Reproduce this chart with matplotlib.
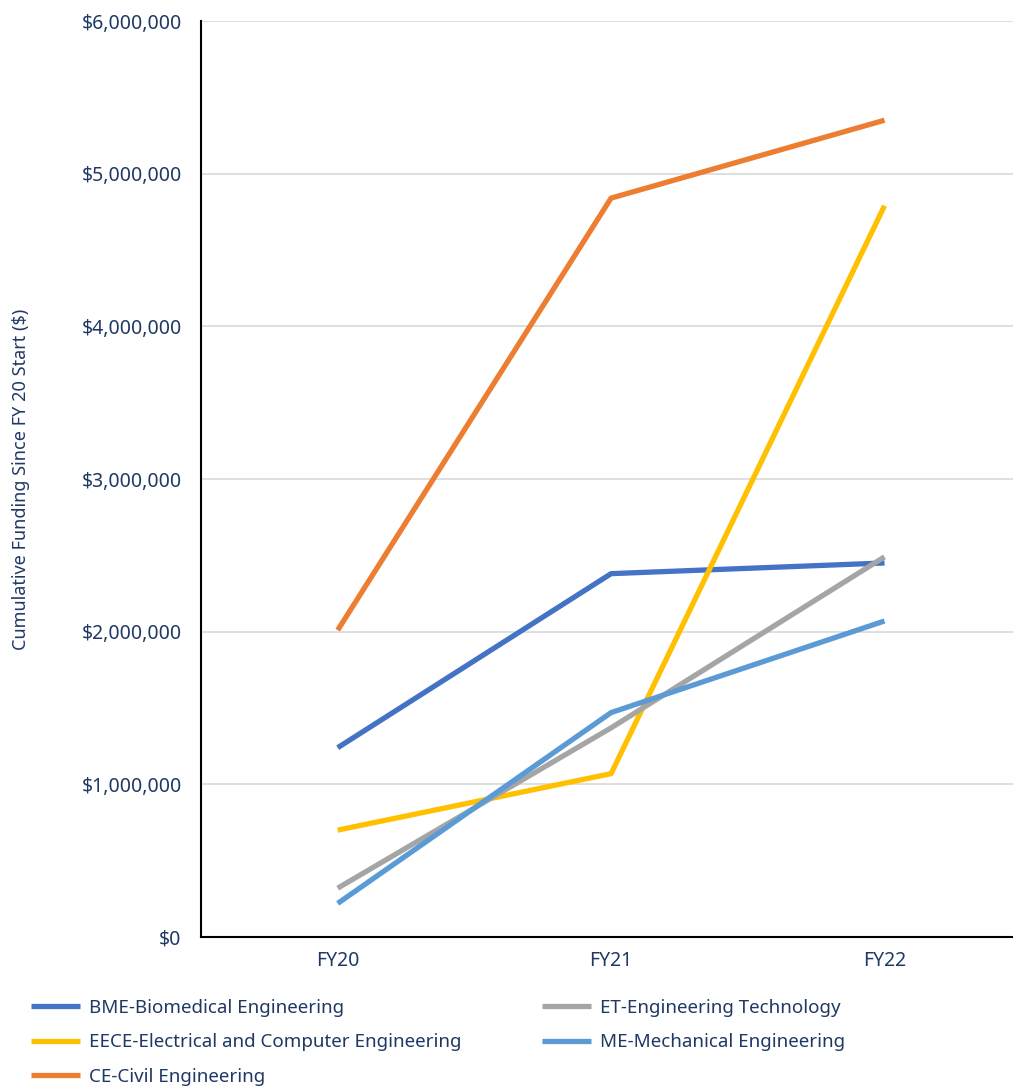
import numpy as np
import matplotlib.pyplot as plt
from matplotlib.ticker import FuncFormatter

plt.rcParams["font.family"] = ["Noto Sans", "DejaVu Sans"]
plt.rcParams["font.size"] = 13

# data
years = ["FY20", "FY21", "FY22"]
bme = [1240000, 2380000, 2450000]
et = [320000, 1370000, 2490000]
eece = [700000, 1070000, 4790000]
me = [220000, 1470000, 2070000]
ce = [2010000, 4840000, 5350000]

text_color = "#1f3864"

fig = plt.figure(figsize=(10.13, 10.89), dpi=100)
ax = fig.add_axes([201 / 1013, 1 - 937 / 1089, 812 / 1013, (937 - 21) / 1089])

x = np.arange(len(years))
series = [
    ("BME-Biomedical Engineering", bme, "#4472c4"),
    ("EECE-Electrical and Computer Engineering", eece, "#ffc000"),
    ("CE-Civil Engineering", ce, "#ed7d31"),
    ("ET-Engineering Technology", et, "#a5a5a5"),
    ("ME-Mechanical Engineering", me, "#5b9bd5"),
]
lines = {}
for name, vals, color in series:
    lines[name], = ax.plot(x, vals, color=color, linewidth=3.8, label=name,
                           solid_capstyle="butt")

ax.set_xlim(-0.5, 2.47)
ax.set_ylim(0, 6000000)
ax.set_xticks(x)
ax.set_xticklabels(years)
ax.yaxis.set_major_locator(plt.MultipleLocator(1000000))
ax.yaxis.set_major_formatter(FuncFormatter(lambda v, p: "${:,.0f}".format(v)))
ax.tick_params(axis="both", length=0, colors=text_color, labelsize=14, pad=10)
ax.tick_params(axis="y", pad=14)
ax.grid(axis="y", color="#d9d9d9", linewidth=1.2)
ax.set_axisbelow(True)
for s in ["top", "right"]:
    ax.spines[s].set_visible(False)
ax.spines["left"].set_color("black")
ax.spines["bottom"].set_color("black")
ax.spines["left"].set_linewidth(1.5)
ax.spines["bottom"].set_linewidth(1.5)

ax.set_ylabel("Cumulative Funding Since FY 20 Start ($)", color=text_color,
              fontsize=13)
ax.yaxis.set_label_coords(-0.21, 0.5)

leg = fig.legend(handles=[lines[s[0]] for s in series], loc="upper left",
                 bbox_to_anchor=(14 / 1013, 1 - 982 / 1089), ncol=2,
                 frameon=False, fontsize=13.5, handlelength=2.6,
                 columnspacing=4.3, labelspacing=0.88, handletextpad=0.5)
for t in leg.get_texts():
    t.set_color(text_color)

plt.savefig("out.png", dpi=100)
